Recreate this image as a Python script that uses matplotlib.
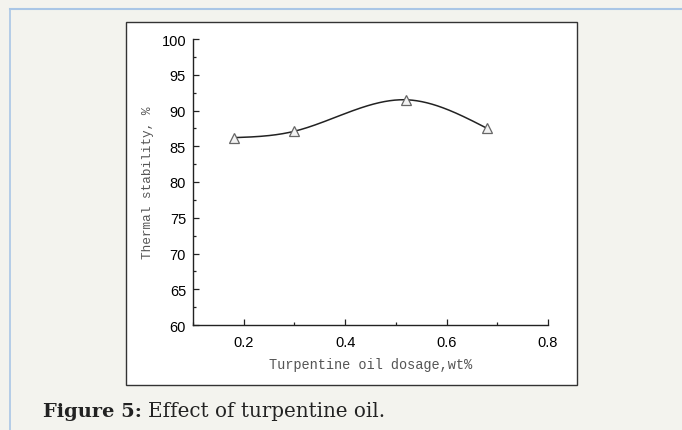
import numpy as np
import matplotlib
matplotlib.use("Agg")
import matplotlib.pyplot as plt
from matplotlib.patches import Rectangle
from matplotlib.lines import Line2D
from matplotlib.ticker import MultipleLocator

# turpentine oil dosage (wt%) vs thermal stability (%)
dosage = [0.18, 0.30, 0.52, 0.68]
stability = [86.2, 87.1, 91.5, 87.5]

x_ticks = [0.2, 0.4, 0.6, 0.8]
y_ticks = [60, 65, 70, 75, 80, 85, 90, 95, 100]


def smooth_curve(x, y, n=300):
    # natural cubic spline through the measured points
    x = np.asarray(x, float)
    y = np.asarray(y, float)
    k = len(x)
    h = np.diff(x)
    A = np.zeros((k, k))
    b = np.zeros(k)
    A[0, 0] = A[-1, -1] = 1
    for i in range(1, k - 1):
        A[i, i - 1] = h[i - 1]
        A[i, i] = 2 * (h[i - 1] + h[i])
        A[i, i + 1] = h[i]
        b[i] = 6 * ((y[i + 1] - y[i]) / h[i] - (y[i] - y[i - 1]) / h[i - 1])
    m = np.linalg.solve(A, b)
    xs = np.linspace(x[0], x[-1], n)
    idx = np.clip(np.searchsorted(x, xs) - 1, 0, k - 2)
    x0, x1 = x[idx], x[idx + 1]
    hh = x1 - x0
    t0, t1 = x1 - xs, xs - x0
    ys = (m[idx] * t0 ** 3 + m[idx + 1] * t1 ** 3) / (6 * hh) \
        + (y[idx] / hh - m[idx] * hh / 6) * t0 \
        + (y[idx + 1] / hh - m[idx + 1] * hh / 6) * t1
    return xs, ys


W, H = 682, 431
fig = plt.figure(figsize=(W / 100, H / 100), dpi=100, facecolor="#f3f3ee")

# page frame lines
fig.add_artist(Line2D([10 / W, 1], [1 - 10 / H] * 2, color="#a9c6e6", lw=1.5))
fig.add_artist(Line2D([10 / W] * 2, [0, 1 - 10 / H], color="#a9c6e6", lw=1.2))

# white box behind the plot
fig.patches.append(Rectangle((126 / W, 1 - 386 / H), 451 / W, 363 / H,
                             facecolor="white", edgecolor="#333333", lw=1.0,
                             transform=fig.transFigure, figure=fig, zorder=-5))

ax = fig.add_axes([193 / W, 1 - 326 / H, 355 / W, 286 / H])
ax.set_facecolor("white")

xs, ys = smooth_curve(dosage, stability)
ax.plot(xs, ys, color="#222222", lw=1.1, zorder=2)
ax.plot(dosage, stability, ls="none", marker="^", ms=6.5,
        mfc="#f2f2f2", mec="#666666", mew=0.9, zorder=3)

ax.set_xlim(0.1, 0.8)
ax.set_ylim(60, 100)
ax.set_xticks(x_ticks)
ax.set_yticks(y_ticks)
ax.xaxis.set_minor_locator(MultipleLocator(0.1))
ax.yaxis.set_minor_locator(MultipleLocator(2.5))

for s in ("top", "right"):
    ax.spines[s].set_visible(False)
for s in ("left", "bottom"):
    ax.spines[s].set_color("#222222")
    ax.spines[s].set_linewidth(1.0)

ax.tick_params(which="both", direction="in", color="#222222", width=0.9)
ax.tick_params(which="major", length=4.5, labelsize=10.5)
ax.tick_params(which="minor", length=2.5)
ax.tick_params(axis="x", pad=7)
ax.tick_params(axis="y", pad=5)
for lab in ax.get_xticklabels() + ax.get_yticklabels():
    lab.set_fontfamily("Liberation Sans")

ax.set_xlabel("Turpentine oil dosage,wt%", family="Liberation Mono",
              fontsize=9.8, color="#555555", labelpad=6)
ax.set_ylabel("Thermal stability, %", family="Liberation Mono",
              fontsize=9.2, color="#555555", labelpad=5)

fig.text(43 / W, 1 - 417 / H, "Figure 5:", family="DejaVu Serif",
         fontweight="bold", fontsize=14, va="baseline", color="#222222")
fig.text(148 / W, 1 - 417 / H, "Effect of turpentine oil.",
         family="DejaVu Serif", fontsize=14.3, va="baseline", color="#222222")

fig.savefig("out.png", dpi=100, facecolor=fig.get_facecolor())
